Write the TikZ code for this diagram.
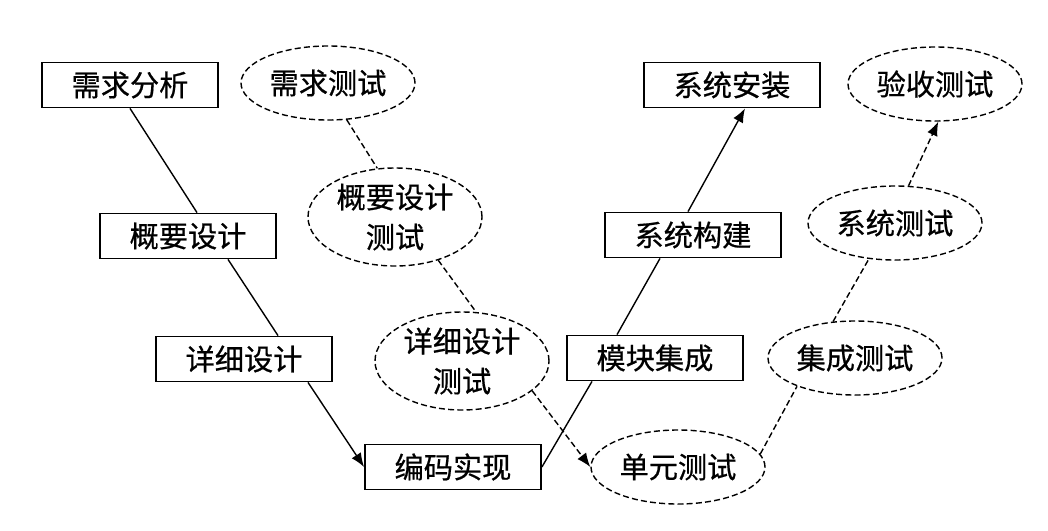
\documentclass[tikz,border=0pt]{standalone}
\usepackage{fontspec}
\newfontfamily\cjk[FakeBold=0.6]{Noto Sans CJK SC}
\usetikzlibrary{shapes.geometric,arrows.meta}
\begin{document}
\begin{tikzpicture}[x=0.5pt,y=-0.5pt,
  font=\cjk\fontsize{14.6}{20}\selectfont,
  stagebox/.style={draw, line width=0.9pt, minimum width=88pt, minimum height=22.5pt, inner sep=0pt},
  testell/.style={draw, ellipse, dashed, dash pattern=on 3pt off 1.6pt, line width=0.7pt, minimum width=87pt, minimum height=37pt, inner sep=0pt, align=center},
  testtall/.style={testell, minimum height=49pt},
  solidline/.style={line width=0.7pt},
  dashline/.style={line width=0.7pt, dash pattern=on 3pt off 1.6pt},
  tip/.style={-{Latex[length=7pt,width=5.5pt]}}
]
\useasboundingbox (0,0) rectangle (1048,530);
% design side
\node[stagebox] (xq) at (130,85) {需求分析};
\node[stagebox] (gy) at (188,236) {概要设计};
\node[stagebox] (xx) at (244,359) {详细设计};
\node[stagebox] (bm) at (453,467) {编码实现};
\node[stagebox] (mk) at (655,358) {模块集成};
\node[stagebox] (gj) at (693,235) {系统构建};
\node[stagebox] (az) at (732,85) {系统安装};
% test side
\node[testell] (xqcs) at (328,83) {需求测试};
\node[testtall] (gycs) at (395,217) {概要设计\\测试};
\node[testtall] (xxcs) at (462,361) {详细设计\\测试};
\node[testell] (dy) at (678,467) {单元测试};
\node[testell] (jc) at (855,358) {集成测试};
\node[testell] (xtcs) at (895,223) {系统测试};
\node[testell] (ys) at (935,84) {验收测试};
% solid V
\draw[solidline] (xq.south) -- ([xshift=4.5pt]gy.north);
\draw[solidline] ([xshift=20pt]gy.south) -- ([xshift=17pt]xx.north);
\draw[solidline,tip] ([xshift=32pt]xx.south) -- (bm.west);
\draw[solidline] (bm.east) -- ([xshift=-31.5pt]mk.south);
\draw[solidline] ([xshift=-19pt]mk.north) -- ([xshift=-16.5pt]gj.south);
\draw[solidline,tip] ([xshift=-2.5pt]gj.north) -- ([xshift=6.5pt]az.south);
% dashed V
\draw[dashline] (xqcs.-63) -- (gycs.110);
\draw[dashline] (gycs.-45) -- (xxcs.74);
\draw[dashline,tip] (xxcs.-23) -- (dy.west);
\draw[dashline] (dy.9) -- (jc.206);
\draw[dashline] (jc.121) -- (xtcs.234);
\draw[dashline,tip] (xtcs.70) -- (ys.-85);
\end{tikzpicture}
\end{document}
